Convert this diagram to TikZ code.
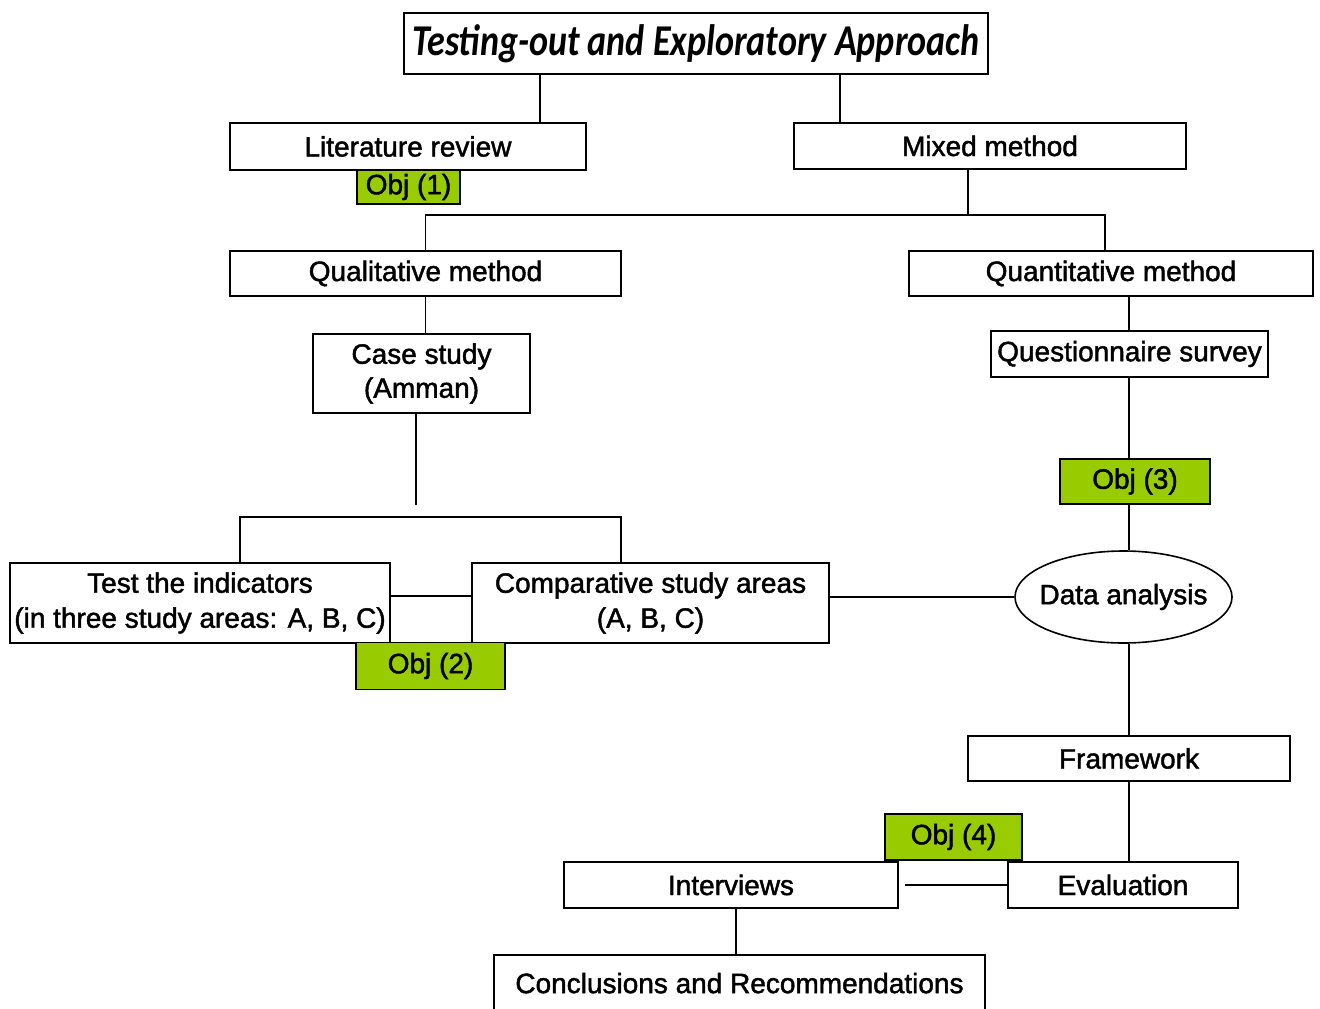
\documentclass[tikz,border=0pt]{standalone}
\usepackage{fontspec}
\setmainfont{Liberation Sans}[FakeBold=1.6]
\newfontfamily\titlefont{Carlito}
\usepackage{graphicx}
\usepackage{tikz}
\usetikzlibrary{shapes.geometric, calc}
\definecolor{objgreen}{HTML}{99CC00}
\tikzset{
	flowbox/.style={draw, line width=1.6pt, fill=white, inner sep=0pt, align=center, font=\fontsize{28}{35}\selectfont}
}
\tikzset{
	objbox/.style={flowbox, fill=objgreen, line width=1.4pt}
}
\tikzset{
	link/.style={line width=1.4pt}
}

\begin{document}
\begin{tikzpicture}[x=1pt, y=-1pt]
      \useasboundingbox (0,0) rectangle (1320,1009);
      % top level
      \node[flowbox, minimum width=584pt, minimum height=61pt, font=\titlefont\bfseries\itshape\fontsize{44}{50}\selectfont] (title) at (696,43.5) {\scalebox{0.82}[1]{Testing-out and Exploratory Approach}};
      \node[flowbox, minimum width=356pt, minimum height=47pt] (litrev) at (408,146.5) {Literature review};
      \node[flowbox, minimum width=392pt, minimum height=46pt] (mixed) at (990,146) {Mixed method};
      \node[objbox, minimum width=103pt, minimum height=34pt] (obj1) at (408.5,187) {Obj (1)};
      \coordinate (jTL) at (540,0);
      \coordinate (jTR) at (840,0);
      \draw[link] (title.south -| jTL) -- (litrev.north -| jTL);
      \draw[link] (title.south -| jTR) -- (mixed.north -| jTR);
      % the two methods
      \node[flowbox, minimum width=391pt, minimum height=45pt] (qual) at (425.5,273.5) {Qualitative method};
      \node[flowbox, minimum width=404pt, minimum height=45pt] (quant) at (1111,273.5) {Quantitative method};
      \coordinate (jM) at (968,215);
      \coordinate (jQ) at (1105,215);
      \draw[link] (mixed.south -| jM) -- (jM);
      \draw[link] (qual.north) |- (jQ) -- (quant.north -| jQ);
      % qualitative branch
      \node[flowbox, minimum width=217pt, minimum height=79pt, font=\fontsize{28}{34}\selectfont] (case) at (421.5,373.5) {Case study\\(Amman)};
      \draw[link] (qual.south) -- (case.north -| qual.south);
      \coordinate (caseEnd) at (416,505);
      \draw[link] (case.south -| caseEnd) -- (caseEnd);
      \node[flowbox, minimum width=380pt, minimum height=80pt] (test) at (200,603) {Test the indicators\\(in three study areas: A, B, C)};
      \node[flowbox, minimum width=357pt, minimum height=80pt] (comp) at (650.5,603) {Comparative study areas\\(A, B, C)};
      \coordinate (bL) at (240,517);
      \coordinate (bR) at (621,517);
      \draw[link] (test.north -| bL) -- (bL) -- (bR) -- (comp.north -| bR);
      \draw[link] ([yshift=7pt]test.east) -- ([yshift=7pt]comp.west);
      \node[objbox, minimum width=149pt, minimum height=47pt] (obj2) at (430.5,666) {Obj (2)};
      % quantitative branch
      \coordinate (jV) at (1129,0);
      \node[flowbox, minimum width=277pt, minimum height=46pt] (quest) at (1129.5,354) {Questionnaire survey};
      \node[objbox, minimum width=150pt, minimum height=45pt] (obj3) at (1135,481.5) {Obj (3)};
      \node[flowbox, ellipse, minimum width=217pt, minimum height=92pt] (data) at (1123.5,597) {\makebox[0pt]{Data analysis}};
      \draw[link] (quant.south -| jV) -- (quest.north -| jV);
      \draw[link] (quest.south -| jV) -- (obj3.north -| jV);
      \draw[link] (obj3.south -| jV) -- (data.north -| jV);
      \draw[link] (comp.east |- data.west) -- (data.west);
      \node[flowbox, minimum width=322pt, minimum height=45pt] (frame) at (1129,758.5) {Framework};
      \draw[link] (data.south -| jV) -- (frame.north -| jV);
      \node[flowbox, minimum width=230pt, minimum height=46pt] (eval) at (1123,885) {Evaluation};
      \draw[link] (frame.south -| jV) -- (eval.north -| jV);
      \node[objbox, minimum width=137pt, minimum height=46pt] (obj4) at (953.5,837) {Obj (4)};
      \node[flowbox, minimum width=334pt, minimum height=46pt] (interv) at (731,885) {Interviews};
      \draw[link] ([xshift=6pt]interv.east) -- (eval.west);
      % runs off the bottom edge
      \node[flowbox, anchor=north, minimum width=491pt, inner ysep=18pt, text depth=40pt] (concl) at (739.5,954) {Conclusions and Recommendations};
      \coordinate (jC) at (736,0);
      \draw[link] (interv.south -| jC) -- (concl.north -| jC);
    \end{tikzpicture}
\end{document}
